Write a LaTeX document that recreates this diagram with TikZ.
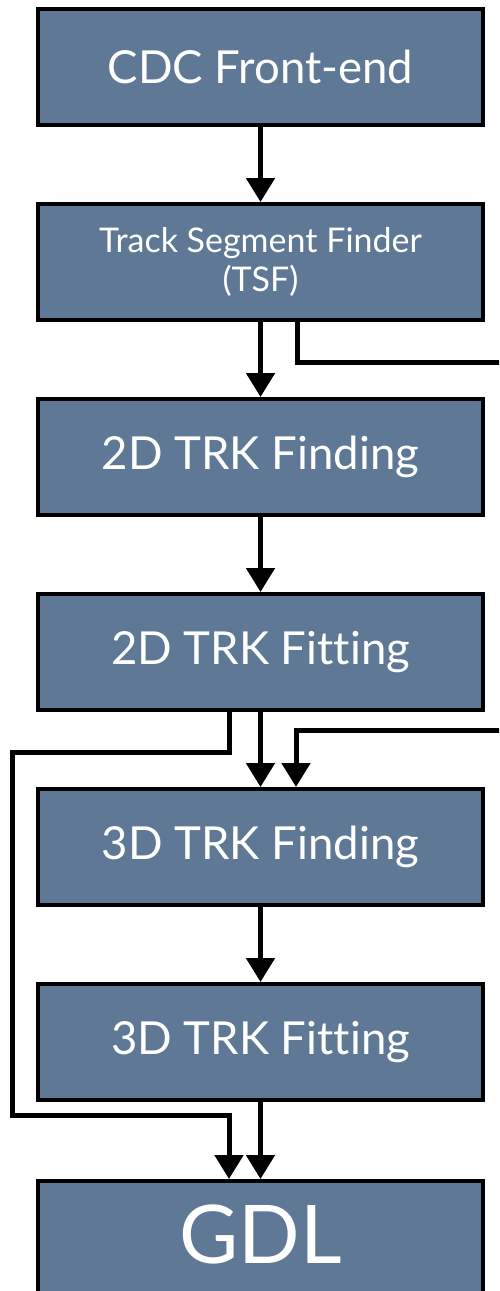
\documentclass[tikz,border=0pt]{standalone}
\usepackage{fontspec}
\setmainfont{Lato}[Ligatures=NoCommon]
\usetikzlibrary{arrows.meta}
\definecolor{slate}{RGB}{95,120,149}
\tikzset{
  stage/.style={draw=black, line width=4pt, fill=slate, text=white,
    minimum width=445pt, minimum height=116pt, inner sep=0pt,
    font=\fontsize{45.5}{50}\selectfont},
  flow/.style={line width=5pt, -{Triangle[width=28pt,length=24pt]}},
  wire/.style={line width=5pt}
}
\begin{document}
\begin{tikzpicture}[x=1pt,y=-1pt]
  \useasboundingbox (0,0) rectangle (499,1291);
  \begin{scope}
    \clip (0,0) rectangle (499,1291);
    \node[stage] (cdc)  at (260.5,67)   {CDC Front-end};
    \node[stage, align=center, font=\fontsize{34}{39}\selectfont] (tsf) at (260.5,262) {Track Segment Finder\\(TSF)};
    \node[stage] (fin2) at (260.5,457)  {2D TRK Finding};
    \node[stage] (fit2) at (260.5,652)  {2D TRK Fitting};
    \node[stage] (fin3) at (260.5,847)  {3D TRK Finding};
    \node[stage] (fit3) at (260.5,1042) {3D TRK Fitting};
    \node[stage, minimum height=150pt, anchor=north, font=\fontsize{81}{86}\selectfont] (gdl) at (260.5,1179) {\raisebox{0pt}[0pt][0pt]{\makebox[0pt]{\raisebox{-7pt}{GDL}}}};

    % free ends of the lines that leave the right edge
    \coordinate (tsfout) at (505,362);
    \coordinate (fitin)  at (505,730);

    \draw[flow] (cdc.south) -- (tsf.north);
    \draw[flow] (tsf.south) -- (fin2.north);
    \draw[wire] (tsf.south -| 297,0) |- (tsfout);
    \draw[flow] (fin2.south) -- (fit2.north);
    \draw[flow] (fit2.south) -- (fin3.north);
    \draw[flow] (fitin) -| (fin3.north -| 296,0);
    \draw[flow] (fit2.south -| 229,0) -- (229,752) -- (12,752) -- (12,1115) -- (229,1115) -- (gdl.north -| 229,0);
    \draw[flow] (fin3.south) -- (fit3.north);
    \draw[flow] (fit3.south) -- (gdl.north);
  \end{scope}
\end{tikzpicture}
\end{document}
